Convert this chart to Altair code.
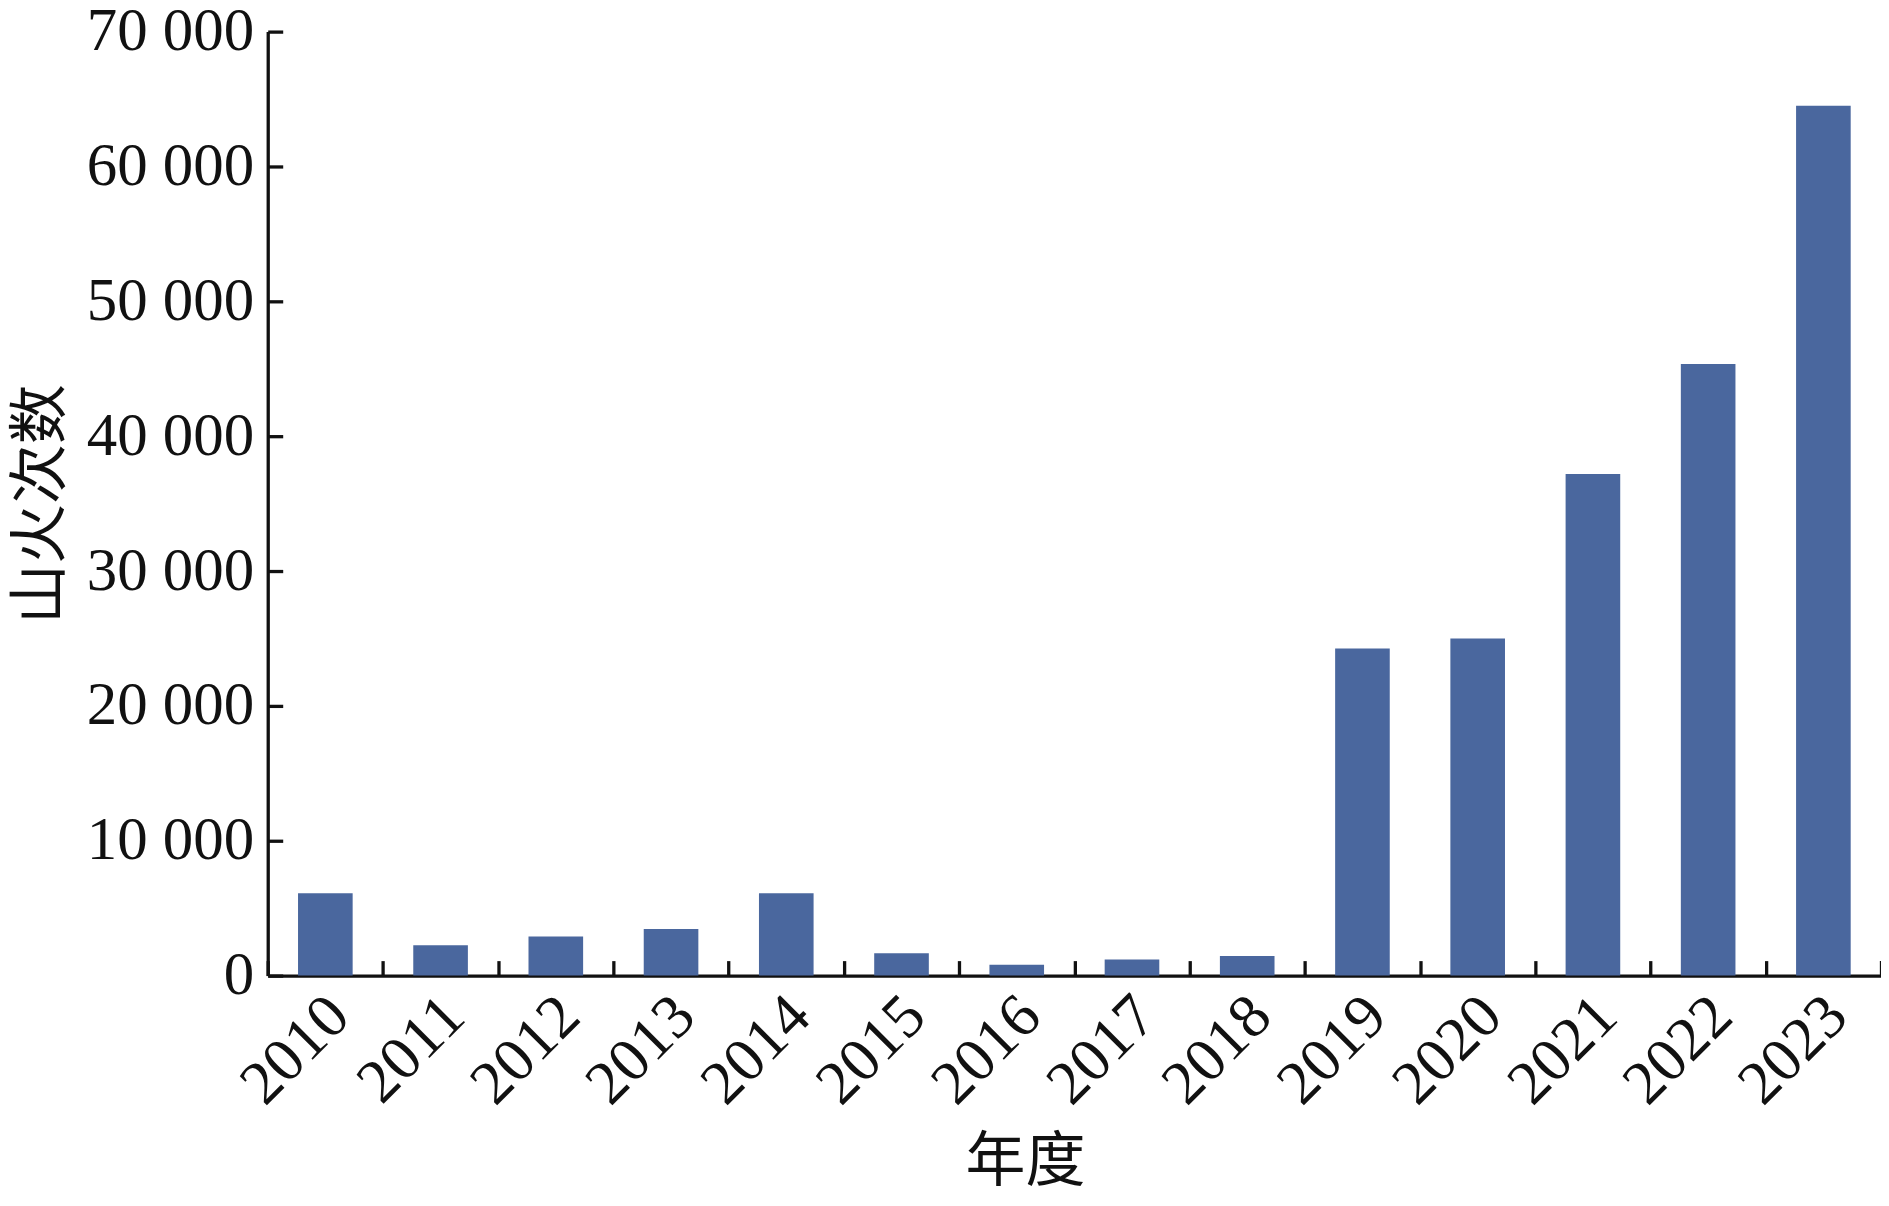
import altair as alt
import pandas as pd

years = ["2010", "2011", "2012", "2013", "2014", "2015", "2016",
         "2017", "2018", "2019", "2020", "2021", "2022", "2023"]
counts = [6100, 2250, 2900, 3450, 6100, 1650, 800,
          1200, 1450, 24250, 25000, 37200, 45350, 64500]
y_ticks = [0, 10000, 20000, 30000, 40000, 50000, 60000, 70000]

df = pd.DataFrame({"year": years, "count": counts})

SERIF = "Liberation Serif, Noto Sans CJK SC"
CJK = "Noto Sans CJK SC"

bars = alt.Chart(df).mark_bar(
    color="#4a679e", width={"band": 0.474}
).encode(
    x=alt.X("year:N", sort=years,
            scale=alt.Scale(paddingInner=0, paddingOuter=0),
            axis=alt.Axis(
                title="年度", titleFont=CJK, titleFontSize=60,
                titleFontWeight="normal", titleColor="#111",
                titleX=758, titleY=187, titleAlign="center",
                titleBaseline="middle", titleLimit=1000,
                labelFont=SERIF, labelFontSize=62, labelColor="#111",
                labelAngle=-45, labelPadding=24, labelOffset=-8,
                labelLimit=500,
                domainColor="#111", domainWidth=3.3,
                tickColor="#111", tickWidth=3.3,
                tickSize={"expr": "-15"}, tickBand="extent",
                grid=False)),
    y=alt.Y("count:Q",
            scale=alt.Scale(domain=[0, 70000], nice=False),
            axis=alt.Axis(
                title="山火次数", titleFont=CJK, titleFontSize=60,
                titleFontWeight="normal", titleColor="#111",
                titlePadding=14, titleLimit=1000,
                values=y_ticks, format=",d",
                labelExpr="replace(datum.label, ',', ' ')",
                labelFont=SERIF, labelFontSize=61, labelColor="#111",
                labelPadding=29, labelLimit=500,
                domainColor="#111", domainWidth=3.3,
                tickColor="#111", tickWidth=3.3,
                tickSize={"expr": "-15"},
                grid=False)),
).properties(
    width=1615, height=945,
    padding={"left": 260, "top": 23, "right": 0, "bottom": 225},
    autosize=alt.AutoSizeParams(type="none"),
).configure_view(stroke=None)

bars.save("out.html", embed_options={"renderer": "svg", "actions": False})
